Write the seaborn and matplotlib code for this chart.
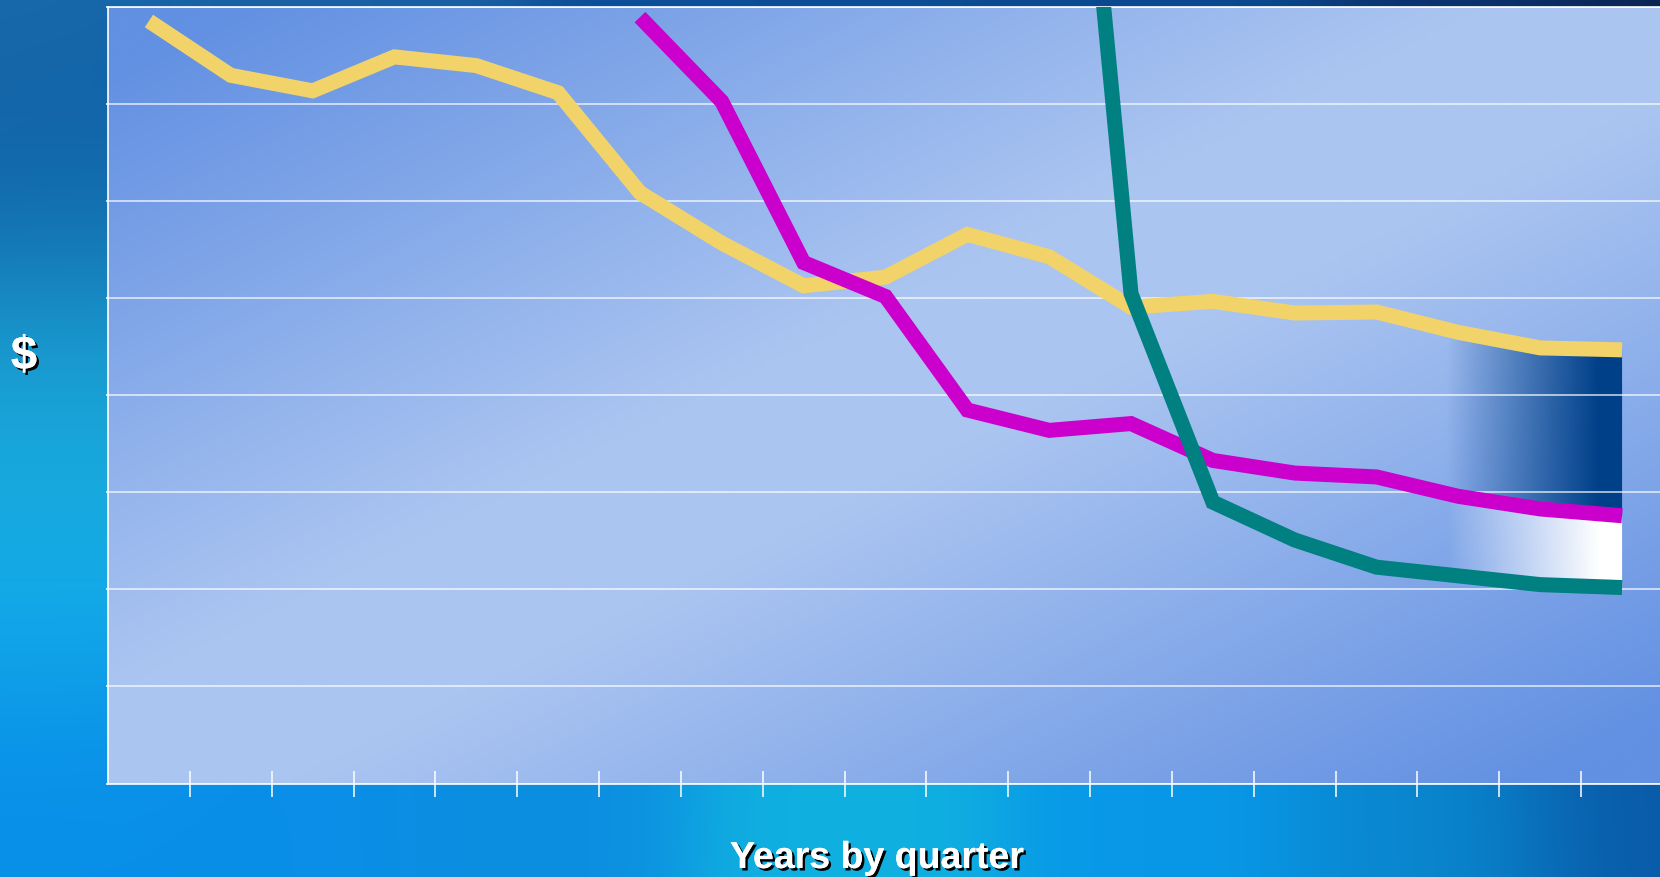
import numpy as np
import pandas as pd
import matplotlib
matplotlib.use("Agg")
import matplotlib.pyplot as plt
import seaborn as sns
from matplotlib import patheffects as pe
from matplotlib.patches import PathPatch
from matplotlib.path import Path

# ---- data -------------------------------------------------------------
quarters = list(range(19))
nan = np.nan
yellow_vals = [7.86, 7.30, 7.14, 7.49, 7.40, 7.12, 6.09, 5.57, 5.13, 5.22,
               5.66, 5.43, 4.91, 4.97, 4.85, 4.86, 4.65, 4.49, 4.47]
magenta_vals = [nan] * 6 + [7.90, 7.03, 5.37, 5.02, 3.85, 3.64, 3.71, 3.33,
                            3.20, 3.16, 2.96, 2.83, 2.76]
teal_vals = [nan] * 11 + [13.9, 5.05, 2.90, 2.51, 2.23, 2.14, 2.05, 2.02]

series_colors = {"yellow": "#F1D36A", "magenta": "#CC00CC", "teal": "#008080"}
x_label = "Years by quarter"
y_label = r"\$"

df = pd.DataFrame({"quarter": quarters, "yellow": yellow_vals,
                   "magenta": magenta_vals, "teal": teal_vals})

W_PX, H_PX = 1660, 877
fig = plt.figure(figsize=(W_PX / 100, H_PX / 100), dpi=100)


def hexrgb(h):
    h = h.lstrip("#")
    return np.array([int(h[i:i + 2], 16) for i in (0, 2, 4)]) / 255.0


# ---- slide backdrop: smooth blue field ---------------------------------
anchors = [
    (0, 0, "#1a6eb0"), (300, 0, "#1a60a4"), (700, 0, "#0b4f98"),
    (1100, 0, "#0b4a90"), (1400, 0, "#0b3470"), (1568, 0, "#0a2450"),
    (0, 60, "#1565a8"), (40, 150, "#0b5aa0"), (40, 230, "#1878b8"),
    (40, 330, "#1aa8d8"), (40, 450, "#18a8dc"), (40, 580, "#14b0ec"),
    (40, 700, "#0a90e8"), (40, 800, "#078ee8"), (250, 800, "#0a8ee8"),
    (500, 790, "#0c8ee0"), (800, 800, "#10b0e0"), (1100, 800, "#0898e8"),
    (1350, 800, "#0a88d0"), (1550, 790, "#0a5aa8"),
]
gx = np.linspace(0, 1568, 392)
gy = np.linspace(0, 828, 207)
XX, YY = np.meshgrid(gx, gy)
acc = np.zeros(XX.shape + (3,))
wsum = np.zeros(XX.shape)
sig = 90.0
for ax_, ay_, c in anchors:
    w = np.exp(-((XX - ax_) ** 2 + (YY - ay_) ** 2) / (2 * sig ** 2)) + 1e-12
    acc += w[..., None] * hexrgb(c)
    wsum += w
back = acc / wsum[..., None]

bg = fig.add_axes([0, 0, 1, 1], zorder=-3)
bg.imshow(back, extent=(0, 1, 0, 1), aspect="auto", origin="upper",
          interpolation="bilinear")
bg.set_xlim(0, 1)
bg.set_ylim(0, 1)
bg.axis("off")

# ---- plot area ----------------------------------------------------------
left, right, top, bottom = 108, 1663, 7.4, 783.5
pos = [left / W_PX, 1 - bottom / H_PX, (right - left) / W_PX, (bottom - top) / H_PX]

# diagonal light band across the plotting area
pbg = fig.add_axes(pos, zorder=-2)
u = np.linspace(0, 1, 300)
v = np.linspace(0, 1, 160)
U, V = np.meshgrid(u, v)
t = (U + V) / 2
f = np.where(t < 0.5, np.clip((t - 0.04) / 0.4, 0, 1), np.clip((0.96 - t) / 0.4, 0, 1))
dark, light = hexrgb("#6290e2"), hexrgb("#abc5f1")
panel = dark + (light - dark) * f[..., None]
pbg.imshow(panel, extent=(0, 1, 0, 1), aspect="auto", origin="upper",
           interpolation="bilinear")
pbg.set_xlim(0, 1)
pbg.set_ylim(0, 1)
pbg.axis("off")

ax = fig.add_axes(pos, zorder=0)
ax.set_facecolor("none")

# ---- series -------------------------------------------------------------
for z, name in enumerate(["yellow", "magenta", "teal"]):
    sub = df[["quarter", name]].dropna()
    sns.lineplot(data=sub, x="quarter", y=name, ax=ax, color=series_colors[name],
                 linewidth=10.8, estimator=None, sort=False, zorder=3 + z)
for ln in ax.lines:
    ln.set_solid_joinstyle("miter")
    ln.set_solid_capstyle("butt")


# ---- highlighted gaps between series at the latest quarters -------------
def gap_fill(upper, lower, rgb, i0=15, x_on=15.85, x_full=17.7):
    xs = np.array(quarters[i0:], float)
    up = np.array(upper[i0:], float)
    lo = np.array(lower[i0:], float)
    verts = np.vstack([np.column_stack([xs, up]), np.column_stack([xs[::-1], lo[::-1]]),
                       [[xs[0], up[0]]]])
    codes = [Path.MOVETO] + [Path.LINETO] * (len(verts) - 2) + [Path.CLOSEPOLY]
    patch = PathPatch(Path(verts, codes), facecolor="none", edgecolor="none",
                      transform=ax.transData)
    ax.add_patch(patch)
    gx_ = np.linspace(xs[0], xs[-1], 400)
    alpha = np.clip((gx_ - x_on) / (x_full - x_on), 0, 1)
    grad = np.zeros((2, gx_.size, 4))
    grad[..., :3] = hexrgb(rgb)
    grad[..., 3] = alpha
    im = ax.imshow(grad, extent=(xs[0], xs[-1], 0, 8), aspect="auto", origin="lower",
                   interpolation="bilinear", zorder=1.2)
    im.set_clip_path(patch)


gap_fill(yellow_vals, magenta_vals, "#004088")
gap_fill(magenta_vals, teal_vals, "#ffffff")

# ---- axes styling -------------------------------------------------------
ax.set_xlim(-0.5, 18.5)
ax.set_ylim(0, 8)
ax.set_axisbelow("line")
ax.set_xticks(np.arange(0.5, 18, 1.0))
ax.set_xticklabels([])
ax.set_yticks(range(0, 9))
ax.set_yticklabels([])
ax.set_xlabel("")
ax.set_ylabel("")
ax.tick_params(axis="x", direction="inout", length=18.5, width=1.1, color="white")
ax.tick_params(axis="y", direction="out", length=1.5, width=1.1, color="white")
ax.yaxis.grid(True, color="white", linewidth=1.2, alpha=0.75)
ax.xaxis.grid(False)
for sp in ax.spines.values():
    sp.set_color("white")
    sp.set_linewidth(1.2)

# ---- titles -------------------------------------------------------------
shadow = [pe.withSimplePatchShadow(offset=(1.8, -1.8), shadow_rgbFace="black", alpha=1.0),
          pe.Normal()]
font = ["Liberation Sans", "DejaVu Sans"]
fig.text(24 / W_PX, 1 - 357 / H_PX, y_label, fontsize=34, fontweight="bold", color="white",
         ha="center", va="center", family=font, path_effects=shadow)
fig.text(877 / W_PX, 1 - 868 / H_PX, x_label, fontsize=27, fontweight="bold", color="white",
         ha="center", va="baseline", family=font, path_effects=shadow)

fig.savefig("out.png", dpi=100)
